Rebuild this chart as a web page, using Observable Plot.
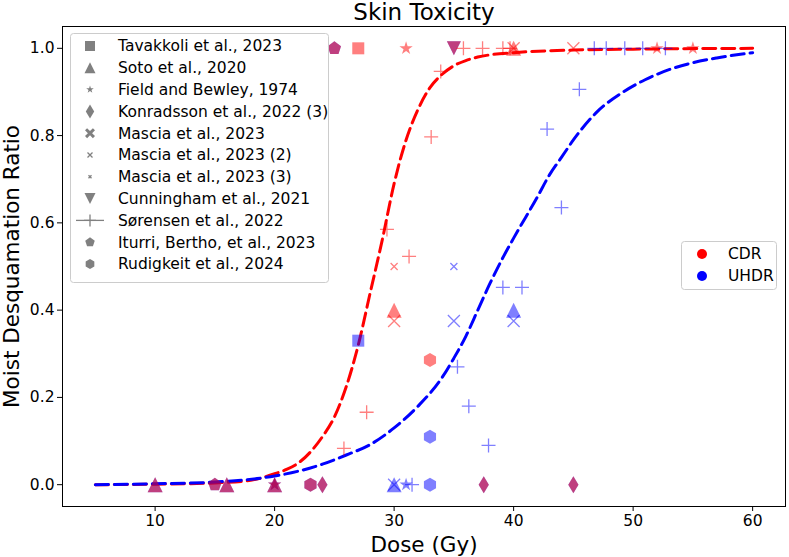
<!DOCTYPE html>
<html>
<head>
<meta charset="utf-8">
<script src="https://cdn.jsdelivr.net/npm/d3@7"></script>
<script src="https://cdn.jsdelivr.net/npm/@observablehq/plot@0.6"></script>
<style>
  body { margin: 0; background: white; font-family: "DejaVu Sans", sans-serif; }
  #wrap { position: relative; width: 789px; height: 557px; }
  #overlay { position: absolute; left: 0; top: 0; pointer-events: none; }
</style>
</head>
<body>
<div id="wrap"></div>
<script>
// ---------- data ----------
const studies = [
  "Tavakkoli et al., 2023", "Soto et al., 2020", "Field and Bewley, 1974",
  "Konradsson et al., 2022 (3)", "Mascia et al., 2023", "Mascia et al., 2023 (2)",
  "Mascia et al., 2023 (3)", "Cunningham et al., 2021", "Sørensen et al., 2022",
  "Iturri, Bertho, et al., 2023", "Rudigkeit et al., 2024"
];
const groups = ["CDR", "UHDR"];
const groupColors = ["#ff0000", "#0000ff"];

const cdrCurveDose  = [5, 10, 15, 18, 20, 21, 22, 23, 24, 25, 26, 27, 28, 29, 30, 31, 32, 33, 34, 35, 36, 37, 38, 40, 45, 50, 60];
const cdrCurveRatio = [0, 0.001, 0.004, 0.01, 0.025, 0.035, 0.05, 0.075, 0.11, 0.155, 0.225, 0.32, 0.44, 0.56, 0.69, 0.79, 0.86, 0.91, 0.94, 0.96, 0.972, 0.98, 0.985, 0.99, 0.996, 0.998, 1.0];
const uhdrCurveDose  = [5, 10, 15, 20, 22, 24, 26, 28, 30, 32, 34, 35, 36, 37, 38, 39, 40, 42, 43, 44, 45, 47, 49, 51, 53, 55, 57, 60];
const uhdrCurveRatio = [0, 0.002, 0.006, 0.02, 0.031, 0.047, 0.068, 0.092, 0.13, 0.18, 0.245, 0.29, 0.34, 0.4, 0.46, 0.515, 0.565, 0.66, 0.71, 0.75, 0.79, 0.855, 0.897, 0.928, 0.951, 0.967, 0.978, 0.99];

const ptStudy = [
  0, 0,
  1, 1, 1, 1, 1, 1, 1, 1, 1, 1,
  2, 2, 2, 2, 2, 2,
  3, 3, 3, 3, 3, 3,
  4, 4, 4, 4, 4, 4,
  5, 5,
  7, 7,
  8, 8, 8, 8, 8, 8, 8, 8, 8, 8,
  8, 8, 8, 8, 8, 8, 8, 8, 8, 8, 8, 8, 8, 8,
  9, 9, 9, 9,
  10, 10, 10, 10, 10
];
const ptGroup = [
  0, 1,
  0, 1, 0, 1, 0, 1, 0, 1, 1, 0,
  0, 1, 0, 1, 0, 0,
  0, 1, 0, 1, 0, 1,
  0, 1, 1, 1, 0, 0,
  0, 1,
  0, 1,
  0, 0, 0, 0, 0, 0, 0, 0, 0, 0,
  1, 1, 1, 1, 1, 1, 1, 1, 1, 1, 1, 1, 1, 1,
  0, 1, 0, 1,
  0, 1, 1, 0, 1
];
const ptDose = [
  27, 27,
  10, 10, 16, 16, 20, 20, 30, 30, 40, 40,
  20, 20, 31, 31, 52, 55,
  24, 24, 37.5, 37.5, 45, 45,
  30, 35, 40, 30, 40, 45,
  30, 35,
  35, 35,
  25.8, 27.7, 29.4, 31.25, 33.1, 33.9, 35.8, 37.4, 39.1, 39.7,
  31.5, 35.3, 36.25, 37.9, 39.1, 40.7, 42.8, 44, 45.5, 46.75, 47.75, 49.3, 50.8, 52.7,
  25, 25, 15, 15,
  33, 33, 33, 23, 23
];
const ptRatio = [
  1.0, 0.33,
  0, 0, 0, 0, 0, 0, 0.4, 0, 0.4, 1.0,
  0, 0, 1.0, 0, 1.0, 1.0,
  0, 0, 0, 0, 0, 0,
  0.375, 0.375, 0.375, 0, 1.0, 1.0,
  0.5, 0.5,
  1.0, 1.0,
  0.083, 0.166, 0.585, 0.523, 0.797, 0.947, 1.0, 1.0, 1.0, 1.0,
  0, 0.27, 0.18, 0.09, 0.452, 0.452, 0.815, 0.635, 0.906, 1.0, 1.0, 1.0, 1.0, 1.0,
  1.0, 1.0, 0, 0,
  0.286, 0.11, 0, 0, 0
];
const xTicks = [10, 20, 30, 40, 50, 60];
const yTicks = [0, 0.2, 0.4, 0.6, 0.8, 1.0];

// ---------- marker shapes (size -> half-size h) ----------
const H = s => Math.sqrt(s / Math.PI);
function poly(ctx, pts) { ctx.moveTo(pts[0][0], pts[0][1]); for (let i = 1; i < pts.length; i++) ctx.lineTo(pts[i][0], pts[i][1]); ctx.closePath(); }
const symSquare = { draw(c, s) { const h = H(s); poly(c, [[-h,-h],[h,-h],[h,h],[-h,h]]); } };
const symTriUp = { draw(c, s) { const h = H(s); poly(c, [[0,-h],[h,h],[-h,h]]); } };
const symTriDown = { draw(c, s) { const h = H(s); poly(c, [[0,h],[h,-h],[-h,-h]]); } };
const symStar = { draw(c, s) { const h = H(s); const p = []; for (let i = 0; i < 10; i++) { const a = -Math.PI/2 + i*Math.PI/5; const r = i % 2 ? h*0.38 : h; p.push([r*Math.cos(a), r*Math.sin(a)]); } poly(c, p); } };
const symThinDiamond = { draw(c, s) { const h = H(s); poly(c, [[0,-h],[0.6*h,0],[0,h],[-0.6*h,0]]); } };
const symX = { draw(c, s) { const h = H(s); c.moveTo(-h,-h); c.lineTo(h,h); c.moveTo(-h,h); c.lineTo(h,-h); } };
const symXFilled = { draw(c, s) { const h = H(s), w = h*0.42; poly(c, [[-h+w,-h],[0,-w],[h-w,-h],[h,-h+w],[w,0],[h,h-w],[h-w,h],[0,w],[-h+w,h],[-h,h-w],[-w,0],[-h,-h+w]]); } };
const symPlus = { draw(c, s) { const h = H(s); c.moveTo(-h,0); c.lineTo(h,0); c.moveTo(0,-h); c.lineTo(0,h); } };
const symPent = { draw(c, s) { const h = H(s); const p = []; for (let i = 0; i < 5; i++) { const a = -Math.PI/2 + i*2*Math.PI/5; p.push([h*Math.cos(a), h*Math.sin(a)]); } poly(c, p); } };
const symHex = { draw(c, s) { const h = H(s); const p = []; for (let i = 0; i < 6; i++) { const a = -Math.PI/2 + i*Math.PI/3; p.push([h*Math.cos(a), h*Math.sin(a)]); } poly(c, p); } };

const studySym = [symSquare, symTriUp, symStar, symThinDiamond, symX, symX, symX, symTriDown, symPlus, symPent, symHex];
const legendSym = [symSquare, symTriUp, symStar, symThinDiamond, symXFilled, symX, symX, symTriDown, symPlus, symPent, symHex];
const studyFilled = [true, true, true, true, false, false, false, true, false, true, true];
const studyR = [6, 7.5, 7, 8.5, 6, 3.5, 2, 7, 7, 7, 7];
const legendR = [5, 5.5, 4, 7, 5, 2.5, 1.5, 5.5, 6, 5, 5];

// ---------- build ----------
const points = ptStudy.map((s, i) => ({ study: s, group: ptGroup[i], dose: ptDose[i], ratio: ptRatio[i] }))
  .sort((a, b) => b.group - a.group);
const cdrCurve = cdrCurveDose.map((d, i) => ({ dose: d, ratio: cdrCurveRatio[i] }));
const uhdrCurve = uhdrCurveDose.map((d, i) => ({ dose: d, ratio: uhdrCurveRatio[i] }));

const dotMarks = studies.map((name, si) => {
  const data = points.filter(p => p.study === si);
  const base = { x: "dose", y: "ratio", symbol: studySym[si], r: studyR[si] };
  return studyFilled[si]
    ? Plot.dot(data, { ...base, fill: d => groupColors[d.group], fillOpacity: 0.5, stroke: "none" })
    : Plot.dot(data, { ...base, stroke: d => groupColors[d.group], strokeOpacity: 0.5, strokeWidth: 1.3, fill: "none" });
});

const chart = Plot.plot({
  width: 789, height: 557,
  marginTop: 26, marginBottom: 51, marginLeft: 62, marginRight: 4,
  style: { fontFamily: "DejaVu Sans, sans-serif", fontSize: "15.5px", color: "black", background: "white", overflow: "visible" },
  x: { domain: [2.25, 62.75], ticks: xTicks, tickFormat: d3.format("d"), tickSize: 5, tickPadding: 3, label: null },
  y: { domain: [-0.05, 1.05], ticks: yTicks, tickFormat: d3.format(".1f"), tickSize: 5, tickPadding: 3, label: null },
  marks: [
    Plot.line(cdrCurve, { x: "dose", y: "ratio", curve: "monotone-x", stroke: groupColors[0], strokeWidth: 3, strokeDasharray: "13,6" }),
    Plot.line(uhdrCurve, { x: "dose", y: "ratio", curve: "monotone-x", stroke: groupColors[1], strokeWidth: 3, strokeDasharray: "13,6" }),
    ...dotMarks,
    Plot.frame({ stroke: "black", strokeWidth: 1 }),
    Plot.text(["Skin Toxicity"], { text: d => d, frameAnchor: "top", lineAnchor: "middle", dy: -14, fontSize: 23 }),
    Plot.text(["Dose (Gy)"], { text: d => d, frameAnchor: "bottom", lineAnchor: "middle", dy: 39, fontSize: 21.5 }),
    Plot.text(["Moist Desquamation Ratio"], { text: d => d, frameAnchor: "left", lineAnchor: "middle", textAnchor: "middle", dx: -50, rotate: -90, fontSize: 21.5 })
  ]
});
const wrap = document.getElementById("wrap");
wrap.appendChild(chart);

// ---------- legends (overlay) ----------
const ov = d3.select(wrap).append("svg").attr("id", "overlay").attr("width", 789).attr("height", 557)
  .style("font-family", "DejaVu Sans, sans-serif");

const lg = ov.append("g");
lg.append("rect").attr("x", 70.5).attr("y", 33.5).attr("width", 258).attr("height", 249).attr("rx", 3)
  .attr("fill", "white").attr("fill-opacity", 0.85).attr("stroke", "#cccccc");
studies.forEach((name, i) => {
  const y = 46 + i * 21.8;
  const sym = d3.symbol().type(legendSym[i]).size(Math.PI * legendR[i] * legendR[i]);
  const p = lg.append("path").attr("d", sym()).attr("transform", `translate(90,${y})`);
  if (studyFilled[i] || i === 4) p.attr("fill", "#808080").attr("stroke", "none");
  else p.attr("fill", "none").attr("stroke", "#808080").attr("stroke-width", 1.3);
  if (i === 8) lg.append("line").attr("x1", 76).attr("x2", 104).attr("y1", y).attr("y2", y).attr("stroke", "#808080").attr("stroke-width", 1.3);
  lg.append("text").attr("x", 118).attr("y", y).attr("dy", "0.35em").attr("font-size", 15.5).text(name);
});

const gg = ov.append("g");
gg.append("rect").attr("x", 681.5).attr("y", 241.5).attr("width", 95).attr("height", 48).attr("rx", 3)
  .attr("fill", "white").attr("fill-opacity", 0.85).attr("stroke", "#cccccc");
groups.forEach((g, i) => {
  const y = 254 + i * 22;
  gg.append("circle").attr("cx", 702).attr("cy", y).attr("r", 5).attr("fill", groupColors[i]);
  gg.append("text").attr("x", 728).attr("y", y).attr("dy", "0.35em").attr("font-size", 15.5).text(g);
});
</script>
</body>
</html>
